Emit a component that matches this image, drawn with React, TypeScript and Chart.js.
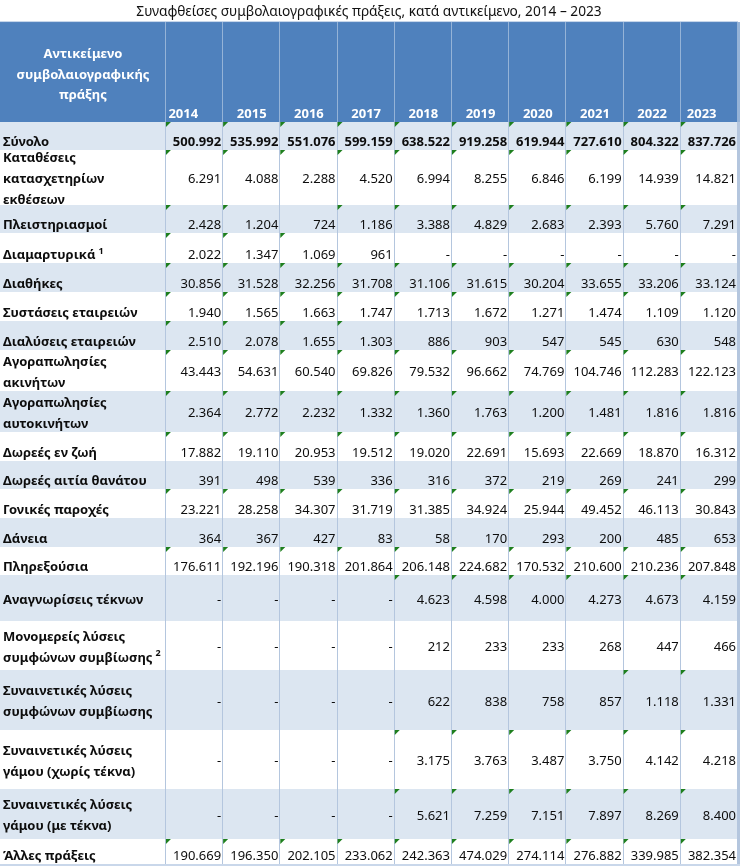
import { useEffect, useRef } from 'react';
import { Chart, registerables } from 'chart.js';

Chart.register(...registerables);

// ---------- data ----------
const title = 'Συναφθείσες συμβολαιογραφικές πράξεις, κατά αντικείμενο, 2014 – 2023';
const headerLabel = ['Αντικείμενο', 'συμβολαιογραφικής', 'πράξης'];
const years = ['2014', '2015', '2016', '2017', '2018', '2019', '2020', '2021', '2022', '2023'];

const categories = [
  'Σύνολο',
  'Καταθέσεις\nκατασχετηρίων\nεκθέσεων',
  'Πλειστηριασμοί',
  'Διαμαρτυρικά^1',
  'Διαθήκες',
  'Συστάσεις εταιρειών',
  'Διαλύσεις εταιρειών',
  'Αγοραπωλησίες\nακινήτων',
  'Αγοραπωλησίες\nαυτοκινήτων',
  'Δωρεές εν ζωή',
  'Δωρεές αιτία θανάτου',
  'Γονικές παροχές',
  'Δάνεια',
  'Πληρεξούσια',
  'Αναγνωρίσεις τέκνων',
  'Μονομερείς λύσεις\nσυμφώνων συμβίωσης^2',
  'Συναινετικές λύσεις\nσυμφώνων συμβίωσης',
  'Συναινετικές λύσεις\nγάμου (χωρίς τέκνα)',
  'Συναινετικές λύσεις\nγάμου (με τέκνα)',
  'Άλλες πράξεις',
];

const synolo = [500992, 535992, 551076, 599159, 638522, 919258, 619944, 727610, 804322, 837726];
const katatheseis = [6291, 4088, 2288, 4520, 6994, 8255, 6846, 6199, 14939, 14821];
const pleistiriasmoi = [2428, 1204, 724, 1186, 3388, 4829, 2683, 2393, 5760, 7291];
const diamartyrika = [2022, 1347, 1069, 961, null, null, null, null, null, null];
const diathikes = [30856, 31528, 32256, 31708, 31106, 31615, 30204, 33655, 33206, 33124];
const systaseis = [1940, 1565, 1663, 1747, 1713, 1672, 1271, 1474, 1109, 1120];
const dialyseis = [2510, 2078, 1655, 1303, 886, 903, 547, 545, 630, 548];
const agorAkiniton = [43443, 54631, 60540, 69826, 79532, 96662, 74769, 104746, 112283, 122123];
const agorAftokiniton = [2364, 2772, 2232, 1332, 1360, 1763, 1200, 1481, 1816, 1816];
const doreesZoi = [17882, 19110, 20953, 19512, 19020, 22691, 15693, 22669, 18870, 16312];
const doreesThanatou = [391, 498, 539, 336, 316, 372, 219, 269, 241, 299];
const gonikes = [23221, 28258, 34307, 31719, 31385, 34924, 25944, 49452, 46113, 30843];
const daneia = [364, 367, 427, 83, 58, 170, 293, 200, 485, 653];
const plirexousia = [176611, 192196, 190318, 201864, 206148, 224682, 170532, 210600, 210236, 207848];
const anagnoriseis = [null, null, null, null, 4623, 4598, 4000, 4273, 4673, 4159];
const monomereis = [null, null, null, null, 212, 233, 233, 268, 447, 466];
const synainSymfonon = [null, null, null, null, 622, 838, 758, 857, 1118, 1331];
const synainXoris = [null, null, null, null, 3175, 3763, 3487, 3750, 4142, 4218];
const synainMe = [null, null, null, null, 5621, 7259, 7151, 7897, 8269, 8400];
const alles = [190669, 196350, 202105, 233062, 242363, 474029, 274114, 276882, 339985, 382354];

const series: (number | null)[][] = [
  synolo, katatheseis, pleistiriasmoi, diamartyrika, diathikes, systaseis, dialyseis,
  agorAkiniton, agorAftokiniton, doreesZoi, doreesThanatou, gonikes, daneia, plirexousia,
  anagnoriseis, monomereis, synainSymfonon, synainXoris, synainMe, alles,
];

// ---------- layout (sizes in scale units) ----------
const LABEL_COL_UNITS = 2.9;
const HEADER_UNITS = 100;
const rowUnits = [28, 55, 28, 30, 29, 29, 29, 41, 41, 29, 28, 29, 29, 28, 46, 49, 60, 59, 50, 25];
const TOTAL_COLS = LABEL_COL_UNITS + years.length;
const TOTAL_ROWS = HEADER_UNITS + rowUnits.reduce((a, b) => a + b, 0);

const FONT = '"Noto Sans", sans-serif';
const HEADER_BG = '#4F81BD';
const SHADE_BG = '#DCE6F1';
const GRID = '#B4C6DE';
const TRI = '#1E7F1E';
const TEXT = '#0D0D0D';

const fmt = (v: number) => String(v).replace(/\B(?=(\d{3})+(?!\d))/g, '.');

const tablePlugin = {
  id: 'tableCells',
  afterDraw(chart: any) {
    const { ctx } = chart;
    const xs = chart.scales.x;
    const ys = chart.scales.y;
    const X = (v: number) => xs.getPixelForValue(v);
    const Y = (v: number) => ys.getPixelForValue(v);

    const colEdges = [0, LABEL_COL_UNITS];
    years.forEach((_, i) => colEdges.push(LABEL_COL_UNITS + i + 1));
    const rowEdges = [0, HEADER_UNITS];
    rowUnits.forEach((h) => rowEdges.push(rowEdges[rowEdges.length - 1] + h));

    const left = X(0);
    const right = X(TOTAL_COLS);
    const top = Y(0);
    const hb = Y(HEADER_UNITS);
    const bottom = Y(TOTAL_ROWS);

    ctx.save();
    // header background
    ctx.fillStyle = HEADER_BG;
    ctx.fillRect(left, top, right - left, hb - top);
    ctx.fillStyle = '#C5D5EA';
    ctx.fillRect(left, top - 1, right - left, 1);
    // header separators
    ctx.fillStyle = '#95B3D7';
    colEdges.slice(1).forEach((c) => {
      ctx.fillRect(Math.round(X(c)) - 1, top, 1, hb - top);
    });
    ctx.fillRect(Math.round(right), top, 2, hb - top);

    // body rows
    rowUnits.forEach((_, r) => {
      const y0 = Y(rowEdges[r + 1]);
      const y1 = Y(rowEdges[r + 2]);
      ctx.fillStyle = r % 2 === 0 ? SHADE_BG : '#FFFFFF';
      ctx.fillRect(left, y0, right - left, y1 - y0);
    });
    // vertical grid in body
    ctx.fillStyle = GRID;
    colEdges.slice(1).forEach((c) => {
      ctx.fillRect(Math.round(X(c)) - 1, hb, 1, bottom - hb);
    });
    ctx.fillRect(Math.round(right), hb, 2, bottom - hb);
    // bottom strip
    ctx.fillStyle = '#C9D7EA';
    ctx.fillRect(left, bottom, right - left + 2, 2);

    // header text
    ctx.fillStyle = '#FFFFFF';
    ctx.font = `bold 13px ${FONT}`;
    ctx.textBaseline = 'alphabetic';
    ctx.textAlign = 'center';
    const hMid = (top + hb) / 2 + 2;
    const lc = (X(0) + X(LABEL_COL_UNITS)) / 2;
    headerLabel.forEach((t, i) => {
      ctx.fillText(t, lc, hMid + (i - (headerLabel.length - 1) / 2) * 20.5 + 4.6);
    });
    years.forEach((yr, i) => {
      const c0 = X(colEdges[i + 1]);
      const c1 = X(colEdges[i + 2]);
      const by = hb - 9 + 4.6;
      if (i === 0) {
        ctx.textAlign = 'left';
        ctx.fillText(yr, c0 + 2.5, by);
      } else if (i === years.length - 1) {
        ctx.textAlign = 'left';
        ctx.fillText(yr, c0 + 6, by);
      } else {
        ctx.textAlign = 'center';
        ctx.fillText(yr, (c0 + c1) / 2, by);
      }
    });

    // body text
    categories.forEach((label, r) => {
      const y0 = Y(rowEdges[r + 1]);
      const y1 = Y(rowEdges[r + 2]);
      const h = y1 - y0;
      const center = h < 30 ? y1 - 8.5 : (y0 + y1) / 2 + 1;
      const lines = label.split('\n');
      ctx.textAlign = 'left';
      ctx.fillStyle = TEXT;
      lines.forEach((ln, i) => {
        const cy = center + (i - (lines.length - 1) / 2) * 21;
        const [main, sup] = ln.split('^');
        ctx.font = `bold 13px ${FONT}`;
        ctx.fillText(main, X(0) + 3, cy + 4.6);
        if (sup) {
          const w = ctx.measureText(main).width;
          ctx.font = `bold 9px ${FONT}`;
          ctx.fillText(sup, X(0) + 3 + w + 3, cy - 1);
        }
      });
      const vals = series[r];
      ctx.textAlign = 'right';
      ctx.font = r === 0 ? `bold 13px ${FONT}` : `13px ${FONT}`;
      vals.forEach((v, i) => {
        const c0 = X(colEdges[i + 1]);
        const c1 = X(colEdges[i + 2]);
        ctx.fillStyle = TEXT;
        ctx.fillText(v === null ? '-' : fmt(v), c1 - 2, center + 4.6);
        if (v !== null && v >= 1000) {
          ctx.fillStyle = TRI;
          ctx.beginPath();
          ctx.moveTo(c0, y0);
          ctx.lineTo(c0 + 5, y0);
          ctx.lineTo(c0, y0 + 5);
          ctx.closePath();
          ctx.fill();
        }
      });
    });
    ctx.restore();
  },
};

export default function App() {
  const ref = useRef<HTMLCanvasElement | null>(null);
  useEffect(() => {
    if (!ref.current) return;
    const chart = new Chart(ref.current, {
      type: 'scatter',
      data: { datasets: [] },
      options: {
        responsive: false,
        maintainAspectRatio: false,
        animation: false,
        devicePixelRatio: 1,
        layout: { padding: { left: 0, right: 2, top: 0, bottom: 2 } },
        plugins: {
          legend: { display: false },
          tooltip: { enabled: false },
          title: {
            display: true,
            text: title,
            color: '#111111',
            font: { family: FONT, size: 13.7, weight: 'normal', lineHeight: 1.17 },
            padding: { top: 4.4, bottom: 1.6 },
          },
        },
        scales: {
          x: { type: 'linear', min: 0, max: TOTAL_COLS, display: false },
          y: { type: 'linear', min: 0, max: TOTAL_ROWS, reverse: true, display: false },
        },
      },
      plugins: [tablePlugin],
    } as any);
    return () => chart.destroy();
  }, []);
  return (
    <div style={{ position: 'fixed', left: 0, top: 0, width: 740, height: 866, background: '#fff' }}>
      <canvas ref={ref} width={740} height={866} style={{ display: 'block', width: 740, height: 866 }} />
    </div>
  );
}
